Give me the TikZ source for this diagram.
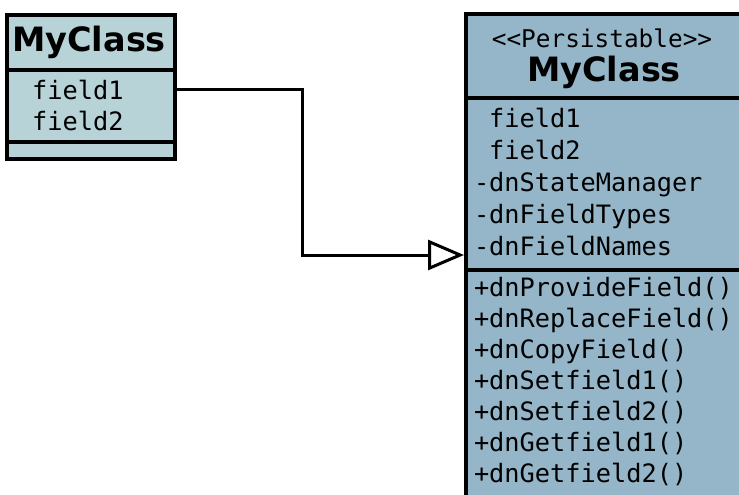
\documentclass[tikz,border=0pt]{standalone}
\usepackage{fontspec}
\setmainfont{DejaVu Sans}
\newfontfamily\monofont{DejaVu Sans Mono}
\usetikzlibrary{arrows.meta}
\definecolor{lightcls}{RGB}{183,211,216}
\definecolor{darkcls}{RGB}{149,182,200}

\begin{document}
\begin{tikzpicture}[x=1pt, y=1pt, line width=4pt,
  classbox/.style = {draw, inner sep=0pt, anchor=north west},
  title/.style = {font=\bfseries\fontsize{33.5}{36}\selectfont, inner sep=0pt},
  members/.style = {font=\monofont\fontsize{25.3}{31}\selectfont, align=left, anchor=west, inner sep=0pt}]
\useasboundingbox (0,0) rectangle (739,-495);
% plain class
\node[classbox, fill=lightcls, minimum width=168pt, minimum height=144pt] (plain) at (5,-13) {};
\draw (5,-70) -- (173,-70);
\draw (5,-142) -- (173,-142);
\node[title] (plaintitle) at (89,-42) {MyClass};
\node[members] (plainfields) at (15,-105) {\hphantom{-}field1\\\hphantom{-}field2};
% enhanced class
\node[classbox, fill=darkcls, minimum width=290pt, minimum height=500pt] (enh) at (464,-12) {};
\draw (464,-98) -- (760,-98);
\draw (464,-270) -- (760,-270);
\node[font=\monofont\fontsize{24.4}{26}\selectfont, inner sep=0pt] (stereo) at (602,-38) {{<}{<}Persistable{>}{>}};
\node[title] (enhtitle) at (604,-72) {MyClass};
\node[members, font=\monofont\fontsize{25.3}{32}\selectfont] (enhfields) at (472,-182)
  {\hphantom{-}field1\\\hphantom{-}field2\\-dnStateManager\\-dnFieldTypes\\-dnFieldNames};
\node[members] (enhmethods) at (472,-381)
  {+dnProvideField()\\+dnReplaceField()\\+dnCopyField()\\+dnSetfield1()\\+dnSetfield2()\\+dnGetfield1()\\+dnGetfield2()};
% enhancement
\coordinate (bend1) at (302,-89);
\coordinate (bend2) at (302,-255);
\draw[line width=3pt, -{Triangle[open, length=36pt, width=30pt]}] (plain.east |- bend1) -- (bend1) -- (bend2) -- (enh.west |- bend2);
\end{tikzpicture}
\end{document}
